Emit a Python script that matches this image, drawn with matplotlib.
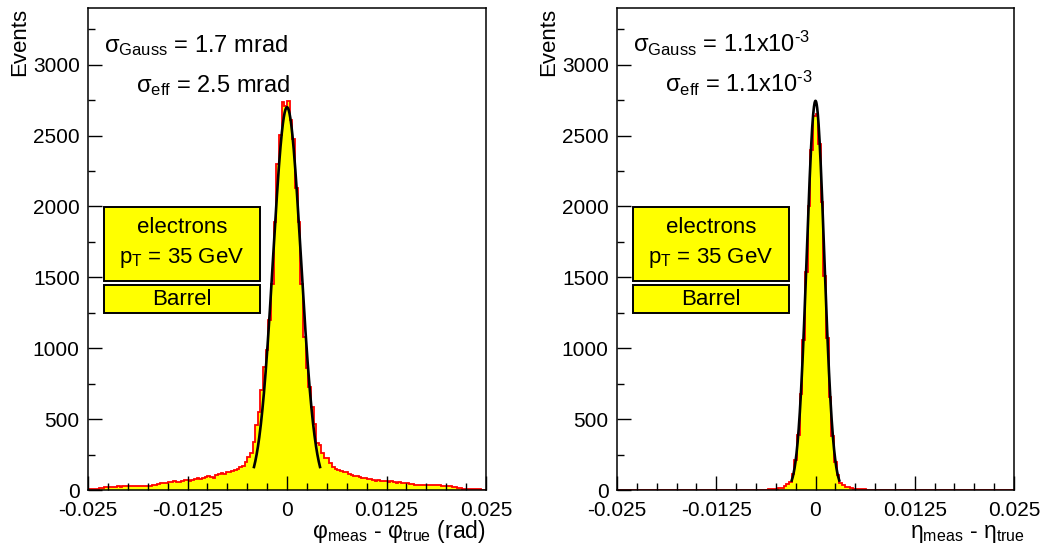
import numpy as np
import matplotlib
matplotlib.use("Agg")
import matplotlib.pyplot as plt
from matplotlib.patches import Rectangle
from matplotlib.ticker import MultipleLocator

plt.rcParams["font.family"] = ["Liberation Sans", "DejaVu Sans"]
plt.rcParams["mathtext.fontset"] = "custom"
plt.rcParams["mathtext.rm"] = "Liberation Sans"
plt.rcParams["mathtext.it"] = "Liberation Sans:italic"
plt.rcParams["mathtext.bf"] = "Liberation Sans:bold"
plt.rcParams["mathtext.default"] = "regular"

# histogram range and binning (150 bins)
x_lo, x_hi, nbins = -0.025, 0.025, 150

# phi_meas - phi_true, events per bin
phi_counts = [
    8, 9, 10, 10, 12, 14, 18, 22, 23, 22,
    24, 25, 24, 26, 27, 26, 28, 27, 29, 28,
    30, 29, 31, 30, 36, 34, 40, 46, 52, 48,
    56, 54, 60, 58, 54, 64, 70, 72, 66, 70,
    78, 86, 80, 84, 90, 98, 94, 84, 104, 112,
    118, 110, 124, 128, 134,
    140, 145, 165, 172, 200, 235, 263, 340, 458, 551,
    704, 868, 986, 1197, 1450, 1890, 2300, 2505, 2734, 2711,
    2741, 2613, 2477, 2127, 1889, 1450, 1077, 860, 727, 587,
    469, 329, 317, 258, 223, 223, 190, 164, 150, 141,
    136, 128, 124, 112, 104, 96, 98, 90, 86, 84,
    80, 76, 70, 66, 68, 62, 60, 62, 58, 60,
    56, 52, 54, 50, 47, 48, 44, 40, 36, 33,
    35, 34, 36, 35, 33, 34, 32, 33, 31, 31,
    28, 26, 22, 18, 14, 12, 9, 7, 6, 5,
    5, 4, 4, 3, 3,
]

# eta_meas - eta_true, events per bin
eta_counts = [0] * 50 + [
    1, 1, 2, 1, 2, 2, 3, 4, 5, 6,
    9, 12, 16, 26, 40, 58, 110, 215, 390, 680,
    1060, 1540, 2000, 2400, 2640, 2655, 2440, 2030, 1510, 1075,
    655, 380, 200, 105, 52, 35, 24, 18, 12, 10,
    7, 5, 4, 4, 3, 3, 2, 2, 1, 2,
    1, 1, 1,
] + [0] * 47

# gaussian fit results: amplitude, sigma, fit half-range
phi_fit = (2700, 0.00175, 0.00415)
eta_fit = (2745, 0.0011, 0.0030)

xticks = [-0.025, -0.0125, 0, 0.0125, 0.025]
xtick_labels = ["-0.025", "-0.0125", "0", "0.0125", "0.025"]

panels = [
    dict(counts=phi_counts, fit=phi_fit,
         xlabel=r"φ$_{\rm meas}$ - φ$_{\rm true}$ (rad)", xlab_x=1.0,
         s_gauss=r"σ$_{\rm Gauss}$ = 1.7 mrad",
         s_eff=r"σ$_{\rm eff}$ = 2.5 mrad",
         rect=[88 / 1042, 58 / 548, 398 / 1042, 482 / 548]),
    dict(counts=eta_counts, fit=eta_fit,
         xlabel=r"η$_{\rm meas}$ - η$_{\rm true}$", xlab_x=1.028,
         s_gauss="σ$_{\\rm Gauss}$ = 1.1x10$^{\\mathrm{\u2010}3}$",
         s_eff="σ$_{\\rm eff}$ = 1.1x10$^{\\mathrm{\u2010}3}$",
         rect=[617 / 1042, 58 / 548, 397 / 1042, 482 / 548]),
]

fig = plt.figure(figsize=(10.42, 5.48), dpi=100)
fs = 15
fs_txt = 17

for p in panels:
    ax = fig.add_axes(p["rect"])
    edges = np.linspace(x_lo, x_hi, nbins + 1)
    ax.stairs(p["counts"], edges, fill=True, color="#ffff00", lw=0)
    ax.stairs(p["counts"], edges, color="#ff0000", lw=1.3)

    amp, sig, rng = p["fit"]
    xf = np.linspace(-rng, rng, 300)
    ax.plot(xf, amp * np.exp(-0.5 * (xf / sig) ** 2), color="black", lw=1.9)

    ax.set_xlim(x_lo, x_hi)
    ax.set_ylim(0, 3400)
    ax.set_xticks(xticks)
    ax.set_xticklabels(xtick_labels)
    ax.xaxis.set_minor_locator(MultipleLocator(0.0025))
    ax.yaxis.set_major_locator(MultipleLocator(500))
    ax.yaxis.set_minor_locator(MultipleLocator(250))
    ax.tick_params(which="both", direction="in", top=False, right=False,
                   labelsize=fs, width=1.0, color="black")
    ax.tick_params(which="major", length=10)
    ax.tick_params(which="minor", length=5)
    ax.tick_params(axis="x", pad=8)
    ax.tick_params(axis="y", pad=6)
    for s in ax.spines.values():
        s.set_linewidth(1.1)

    ax.text(p["xlab_x"], -0.1, p["xlabel"], transform=ax.transAxes,
            ha="right", va="baseline", fontsize=16.5)
    ax.text(-0.172, 1.0, "Events", transform=ax.transAxes, rotation=90,
            ha="center", va="top", fontsize=16)

    ax.text(0.04, 0.909, p["s_gauss"], transform=ax.transAxes,
            ha="left", va="baseline", fontsize=fs_txt)
    ax.text(0.12, 0.826, p["s_eff"], transform=ax.transAxes,
            ha="left", va="baseline", fontsize=fs_txt)

    # labels in boxes
    ax.add_patch(Rectangle((0.04, 0.434), 0.392, 0.153, transform=ax.transAxes,
                           facecolor="#ffff00", edgecolor="black", lw=1.4,
                           zorder=5))
    ax.add_patch(Rectangle((0.04, 0.367), 0.392, 0.058, transform=ax.transAxes,
                           facecolor="#ffff00", edgecolor="black", lw=1.4,
                           zorder=5))
    ax.text(0.236, 0.544, "electrons", transform=ax.transAxes, ha="center",
            va="center", fontsize=16, zorder=6)
    ax.text(0.236, 0.481, r"p$_{T}$ = 35 GeV", transform=ax.transAxes,
            ha="center", va="center", fontsize=16, zorder=6)
    ax.text(0.236, 0.396, "Barrel", transform=ax.transAxes, ha="center",
            va="center", fontsize=16, zorder=6)

fig.savefig("out.png", dpi=100)
